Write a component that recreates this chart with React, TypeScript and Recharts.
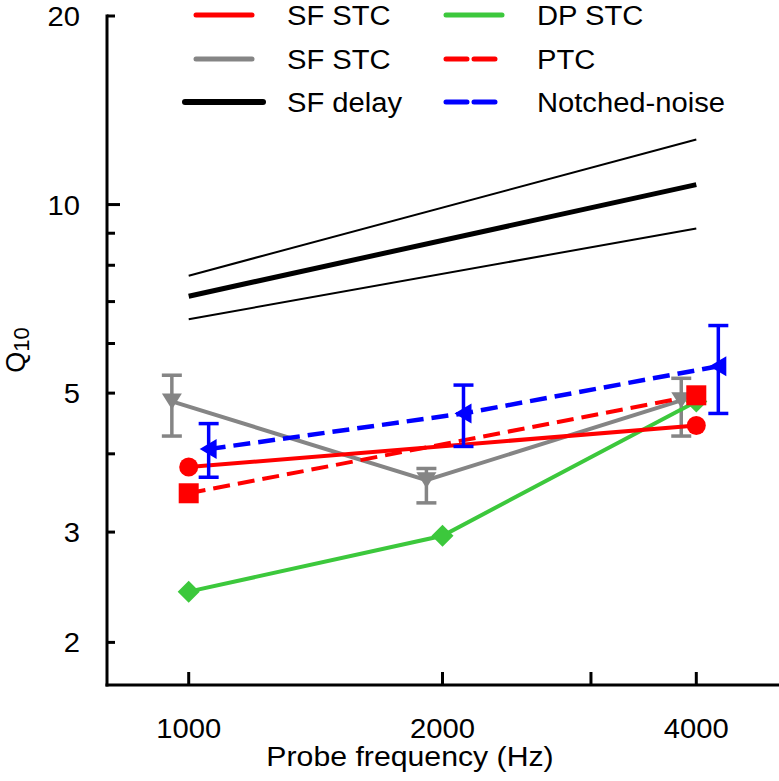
import React from 'react';
import { ComposedChart, Line, XAxis, YAxis, ErrorBar, Legend } from 'recharts';

const FONT = '"Liberation Sans", Arial, Helvetica, sans-serif';
const RED = '#ff0000';
const GRAY = '#858585';
const GREEN = '#3cc83c';
const BLUE = '#0000ff';
const BLACK = '#000000';

// ---- data (Q10 values) ----
const delayFreq = [1000, 4000];
const sfDelayMean = [7.14, 10.76];
const sfDelayUpper = [7.7, 12.7];
const sfDelayLower = [6.56, 9.16];

const sfStcFreq = [1000, 4000];
const sfStcRedQ = [3.81, 4.44];

const ptcFreq = [1000, 4000];
const ptcQ = [3.46, 4.96];

const dpFreq = [1000, 2000, 4000];
const dpStcQ = [2.41, 2.96, 4.85];

const grayFreq = [955, 1914, 3839];
const sfStcGrayQ = [4.85, 3.63, 4.87];
const sfStcGrayLo = [4.27, 3.34, 4.27];
const sfStcGrayHi = [5.34, 3.79, 5.28];

const nnFreq = [1056, 2118, 4248];
const nnQ = [4.07, 4.64, 5.52];
const nnLo = [3.67, 4.11, 4.64];
const nnHi = [4.47, 5.15, 6.41];

const xTicks = [1000, 2000, 3000, 4000];
const xTickLabels = [1000, 2000, 4000];
const yTicks = [2, 3, 4, 5, 6, 7, 8, 9, 10, 20];
const yTickLabels = [2, 3, 5, 10, 20];
const yMajorTicks = [10];
const xDomain = [800, 5000];
const yDomain = [1.71, 20];

const legendLabels = ['SF STC', 'SF STC', 'SF delay', 'DP STC', 'PTC', 'Notched-noise'];

const toRows = (fs: number[], qs: number[], lo?: number[], hi?: number[]) =>
  fs.map((f, i) => {
    const row: any = { f, q: qs[i] };
    if (lo && hi) row.err = [qs[i] - lo[i], hi[i] - qs[i]];
    return row;
  });

const delayMeanRows = toRows(delayFreq, sfDelayMean);
const delayUpperRows = toRows(delayFreq, sfDelayUpper);
const delayLowerRows = toRows(delayFreq, sfDelayLower);
const redRows = toRows(sfStcFreq, sfStcRedQ);
const ptcRows = toRows(ptcFreq, ptcQ);
const dpRows = toRows(dpFreq, dpStcQ);
const grayRows = toRows(grayFreq, sfStcGrayQ, sfStcGrayLo, sfStcGrayHi);
const nnRows = toRows(nnFreq, nnQ, nnLo, nnHi);

const SX = 1.08;
const T = ({ x, y, size = 27, anchor = 'start', sx = SX, children }: any) => (
  <text
    transform={`translate(${x},${y}) scale(${sx},1)`}
    x={0}
    y={0}
    textAnchor={anchor}
    fontSize={size}
    fontFamily={FONT}
    fill="#000"
  >
    {children}
  </text>
);

const YTick = (props: any) => {
  const { x, y, payload } = props;
  const v = payload.value;
  const len = yMajorTicks.includes(v) ? 13 : 8;
  return (
    <g>
      <line x1={x} y1={y} x2={x + len} y2={y} stroke="#000" strokeWidth={3} />
      {yTickLabels.includes(v) && (
        <T x={x - 27} y={y + 10} anchor="end">
          {v}
        </T>
      )}
    </g>
  );
};

const XTick = (props: any) => {
  const { x, y, payload } = props;
  const v = payload.value;
  return (
    <g>
      <line x1={x} y1={y} x2={x} y2={y - 13} stroke="#000" strokeWidth={3} />
      {xTickLabels.includes(v) && (
        <T x={x} y={y + 53} anchor="middle">
          {v}
        </T>
      )}
    </g>
  );
};

const circleDot = (p: any) => <circle key={`c${p.index}`} cx={p.cx} cy={p.cy} r={9.5} fill={RED} />;
const squareDot = (p: any) => (
  <rect key={`s${p.index}`} x={p.cx - 10} y={p.cy - 10} width={20} height={20} fill={RED} />
);
const diamondDot = (p: any) => (
  <polygon
    key={`d${p.index}`}
    points={`${p.cx},${p.cy - 11} ${p.cx + 11},${p.cy} ${p.cx},${p.cy + 11} ${p.cx - 11},${p.cy}`}
    fill={GREEN}
  />
);
const triDownDot = (p: any) => (
  <polygon
    key={`t${p.index}`}
    points={`${p.cx - 10},${p.cy - 8} ${p.cx + 10},${p.cy - 8} ${p.cx},${p.cy + 8}`}
    fill={GRAY}
  />
);
const triLeftDot = (p: any) => (
  <polygon
    key={`l${p.index}`}
    points={`${p.cx - 9},${p.cy} ${p.cx + 8},${p.cy - 10} ${p.cx + 8},${p.cy + 10}`}
    fill={BLUE}
  />
);

const legendStyles = [
  { color: RED, w: 5, dash: undefined, x1: 196, x2: 252 },
  { color: GRAY, w: 5, dash: undefined, x1: 196, x2: 252 },
  { color: BLACK, w: 6, dash: undefined, x1: 185, x2: 263 },
  { color: GREEN, w: 5, dash: undefined, x1: 446, x2: 502 },
  { color: RED, w: 5, dash: '21 7', x1: 446, x2: 502 },
  { color: BLUE, w: 5, dash: '21 7', x1: 446, x2: 502 },
];
const legendRowsY = [15, 59, 102];
const legendTextX = [287, 537];

const LegendContent = () => (
  <svg width={779} height={130} style={{ display: 'block' }}>
    {legendLabels.map((lab, i) => {
      const s = legendStyles[i];
      const col = i < 3 ? 0 : 1;
      const y = legendRowsY[i % 3];
      return (
        <g key={i}>
          <line
            x1={s.x1}
            x2={s.x2}
            y1={y}
            y2={y}
            stroke={s.color}
            strokeWidth={s.w}
            strokeDasharray={s.dash}
            strokeLinecap="round"
          />
          <T x={legendTextX[col]} y={y + 10}>
            {lab}
          </T>
        </g>
      );
    })}
  </svg>
);

const XTitle = () => (
  <T x={410} y={766} anchor="middle" sx={1.12}>
    Probe frequency (Hz)
  </T>
);

const YTitle = () => (
  <g transform="translate(25,350) rotate(-90)">
    <text x={0} y={0} textAnchor="middle" fontFamily={FONT} fontSize={27} fill="#000">
      <tspan>Q</tspan>
      <tspan fontSize={22} dy={4}>
        10
      </tspan>
    </text>
  </g>
);

export default function App() {
  return (
    <div style={{ position: 'absolute', left: 0, top: 0, background: '#fff' }}>
      <ComposedChart
        width={779}
        height={781}
        margin={{ top: 16, right: 1, bottom: 16, left: 0 }}
        style={{ fontFamily: FONT }}
      >
        <XAxis
          dataKey="f"
          type="number"
          scale="log"
          domain={xDomain}
          allowDataOverflow
          ticks={xTicks}
          interval={0}
          tick={<XTick />}
          tickLine={false}
          tickSize={0}
          tickMargin={0}
          height={80}
          axisLine={{ stroke: '#000', strokeWidth: 3, strokeLinecap: 'square' }}
          label={{ content: () => <XTitle /> }}
        />
        <YAxis
          dataKey="q"
          type="number"
          scale="log"
          domain={yDomain}
          allowDataOverflow
          ticks={yTicks}
          interval={0}
          tick={<YTick />}
          tickLine={false}
          tickSize={0}
          tickMargin={0}
          width={107}
          axisLine={{ stroke: '#000', strokeWidth: 3, strokeLinecap: 'square' }}
          label={{ content: () => <YTitle /> }}
        />
        <Legend
          layout="horizontal"
          verticalAlign="middle"
          align="center"
          content={() => <LegendContent />}
          wrapperStyle={{ left: 0, top: 0, width: 779, height: 130 }}
        />
        <Line data={delayUpperRows} dataKey="q" stroke={BLACK} strokeWidth={2} dot={false} isAnimationActive={false} legendType="none" />
        <Line data={delayLowerRows} dataKey="q" stroke={BLACK} strokeWidth={2} dot={false} isAnimationActive={false} legendType="none" />
        <Line data={delayMeanRows} dataKey="q" stroke={BLACK} strokeWidth={5} dot={false} isAnimationActive={false} />
        <Line data={grayRows} dataKey="q" stroke={GRAY} strokeWidth={4} dot={triDownDot} isAnimationActive={false}>
          <ErrorBar dataKey="err" width={10} stroke={GRAY} strokeWidth={3.5} direction="y" />
        </Line>
        <Line data={dpRows} dataKey="q" stroke={GREEN} strokeWidth={4} dot={diamondDot} isAnimationActive={false} />
        <Line data={redRows} dataKey="q" stroke={RED} strokeWidth={4} dot={circleDot} isAnimationActive={false} />
        <Line data={ptcRows} dataKey="q" stroke={RED} strokeWidth={4} strokeDasharray="17 8" dot={squareDot} isAnimationActive={false} />
        <Line data={nnRows} dataKey="q" stroke={BLUE} strokeWidth={4.5} strokeDasharray="17 8" dot={triLeftDot} isAnimationActive={false}>
          <ErrorBar dataKey="err" width={10} stroke={BLUE} strokeWidth={3.5} direction="y" />
        </Line>
      </ComposedChart>
    </div>
  );
}
